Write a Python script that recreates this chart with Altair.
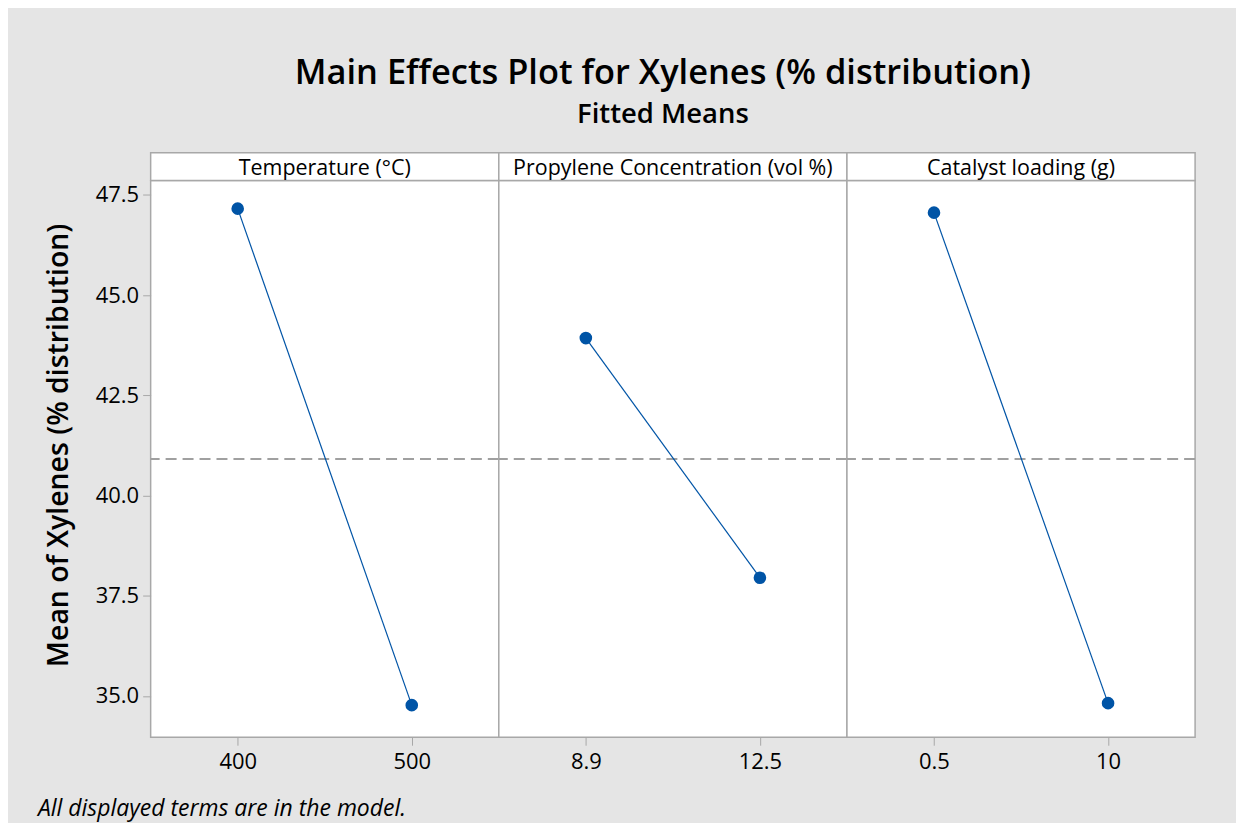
import altair as alt
import pandas as pd

# ---- data ----
factors = ["Temperature (°C)", "Propylene Concentration (vol %)", "Catalyst loading (g)"]
levels = [["400", "500"], ["8.9", "12.5"], ["0.5", "10"]]
means = [[47.16, 34.77], [43.93, 37.95], [47.06, 34.82]]
overall_mean = 40.91
y_ticks = [35.0, 37.5, 40.0, 42.5, 45.0, 47.5]
y_domain = [33.97, 47.86]

title_text = "Main Effects Plot for Xylenes (% distribution)"
subtitle_text = "Fitted Means"
y_title = "Mean of Xylenes (% distribution)"
footnote = "All displayed terms are in the model."

# ---- style ----
FONT = "Open Sans"
BLUE = "#0054a6"
BORDER = "#a8a8a8"
BG = "#e5e5e5"
PW, PH, HH = 349, 558, 28


def make_panel(i):
    df = pd.DataFrame({"level": levels[i], "mean": means[i]})
    xenc = alt.X(
        "level:N",
        sort=levels[i],
        scale=alt.Scale(type="point", padding=0.5),
        axis=alt.Axis(
            title=None, labelAngle=0, labelFontSize=22, labelFont=FONT,
            labelColor="black", tickColor=BORDER, tickSize=8, tickWidth=1,
            domain=False, labelPadding=6, grid=False,
        ),
    )
    if i == 0:
        yaxis = alt.Axis(
            title=y_title, values=y_ticks, format=".1f", labelFontSize=22,
            labelFont=FONT, labelColor="black", tickColor=BORDER, tickSize=8,
            tickWidth=1, domain=False, grid=False, labelPadding=4,
            titleFontSize=28.5, titleFont=FONT, titleFontWeight=600,
            titleColor="black", titlePadding=22, titleY=(PH - HH) / 2,
        )
    else:
        yaxis = None
    yscale = alt.Scale(domain=y_domain, nice=False, zero=False)
    yenc = alt.Y("mean:Q", scale=yscale, axis=yaxis)

    ref = alt.Chart(pd.DataFrame({"mean": [overall_mean]})).mark_rule(
        color="#a0a0a0", strokeDash=[11, 6], strokeWidth=2
    ).encode(y=alt.Y("mean:Q", scale=yscale, axis=yaxis))
    line = alt.Chart(df).mark_line(color=BLUE, strokeWidth=1.2).encode(x=xenc, y=yenc)
    pts = alt.Chart(df).mark_circle(color=BLUE, size=160, opacity=1).encode(x=xenc, y=yenc)

    hdr_df = pd.DataFrame({"f": [factors[i]]})
    strip = alt.Chart(hdr_df).mark_rect(
        fill="white", stroke=BORDER, strokeWidth=1.5
    ).encode(x=alt.value(0), x2=alt.value(PW), y=alt.value(-HH), y2=alt.value(0))
    hdr = alt.Chart(hdr_df).mark_text(
        font=FONT, fontSize=21.5, fontWeight=500, color="black",
        align="center", baseline="middle"
    ).encode(text="f:N", x=alt.value(PW / 2), y=alt.value(-HH / 2 + 2))

    layers = [ref, line, pts, strip, hdr]
    if i == 0:
        note = alt.Chart(pd.DataFrame({"t": [footnote]})).mark_text(
            font=FONT, fontSize=23, fontStyle="italic", align="left",
            baseline="middle", color="black"
        ).encode(text="t:N", x=alt.value(-113), y=alt.value(630))
        layers.append(note)
    return alt.layer(*layers).properties(width=PW, height=PH)


chart = alt.hconcat(*[make_panel(i) for i in range(3)], spacing=0, bounds="flush").properties(
    title=alt.TitleParams(
        text=title_text, subtitle=subtitle_text, anchor="middle",
        font=FONT, fontSize=34.5, fontWeight=600, color="black",
        subtitleFont=FONT, subtitleFontSize=27.5, subtitleFontWeight=600,
        subtitleColor="black", subtitlePadding=9, offset=22, dx=46,
    ),
    background=BG,
    padding={"left": 29, "top": 47, "right": 39, "bottom": 0},
).configure_view(
    fill="white", stroke=BORDER, strokeWidth=1.5
)

chart.save("out.html", embed_options={"renderer": "svg", "actions": False})
